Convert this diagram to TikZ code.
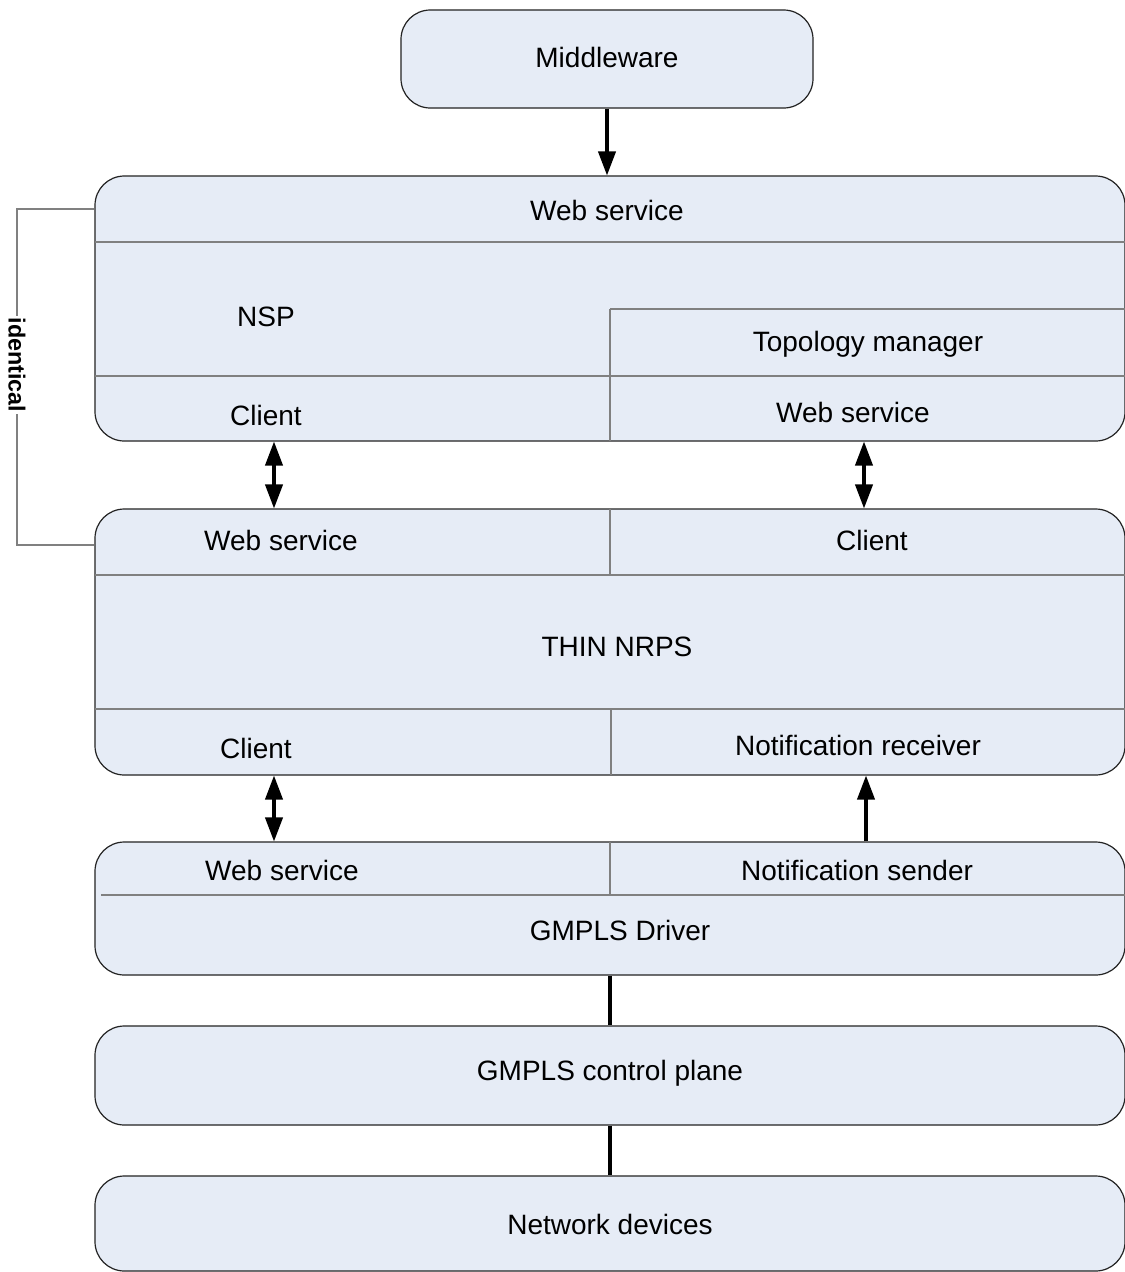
\documentclass[tikz,border=0pt]{standalone}
\usepackage{fontspec}
\setmainfont{Liberation Sans}
\usetikzlibrary{arrows.meta,fit}

\definecolor{layerfill}{RGB}{230,236,246}
\definecolor{layerline}{RGB}{35,35,35}
\definecolor{splitline}{RGB}{128,128,128}

\tikzset{every picture/.style={line width=0.75pt}}
\tikzset{
  layer/.style={draw=layerline, fill=layerfill, rounded corners=22pt, inner sep=0pt, line width=0.9pt},
  split/.style={draw=splitline, line width=1.1pt},
  lbl/.style={font=\fontsize{21}{25}\selectfont, inner sep=1pt},
  idlbl/.style={font=\bfseries\fontsize{17.5}{20}\selectfont, fill=white, inner sep=1pt, rotate=-90},
  arr/.style={draw=black, line width=2.3pt, -{Triangle[length=18pt,width=13pt]}},
  dblarr/.style={draw=black, line width=2.3pt, {Triangle[length=18pt,width=13pt]}-{Triangle[length=18pt,width=13pt]}},
  link/.style={draw=black, line width=2.3pt},
  bracket/.style={draw=splitline, line width=1pt},
}

\begin{document}
\begin{tikzpicture}[x=0.75pt,y=0.75pt,yscale=-1,xscale=1]
                \useasboundingbox (0,0) rectangle (1125,1272);
                \fill[white] (0,0) rectangle (1125,1272);

                %Middleware
                \node[layer, fit={(401,10) (813,108)}] (mw) {};
                \node[lbl] (mwname) at (607,57) {Middleware};

                %NSP layer
                \node[layer, fit={(95,176) (1125,441)}] (nsp) {};
                \draw[split] (95,242) -- (1125,242);
                \draw[split] (95,376) -- (1125,376);
                \draw[split] (610,309) -- (1125,309);
                \draw[split] (610,309) -- (610,441);
                \node[lbl] (nspws) at (607,210) {Web service};
                \node[lbl] (nspname) at (266,317) {NSP};
                \node[lbl] (topo) at (868,344) {Topology manager};
                \node[lbl] (nspcl) at (266,415) {Client};
                \node[lbl] (topows) at (853,412) {Web service};

                %THIN NRPS layer
                \node[layer, fit={(95,509) (1125,775)}] (nrps) {};
                \draw[split] (95,575) -- (1125,575);
                \draw[split] (95,709) -- (1125,709);
                \draw[split] (610,509) -- (610,575);
                \draw[split] (611,709) -- (611,775);
                \node[lbl] (nrpsws) at (281,540) {Web service};
                \node[lbl] (nrpscl) at (872,540) {Client};
                \node[lbl] (nrpsname) at (617,647) {THIN NRPS};
                \node[lbl] (nrpscl2) at (256,748) {Client};
                \node[lbl] (notrecv) at (858,745) {Notification receiver};

                %GMPLS Driver layer
                \node[layer, fit={(95,842) (1125,975)}] (drv) {};
                \draw[split] (101,895) -- (1125,895);
                \draw[split] (610,842) -- (610,895);
                \node[lbl] (drvws) at (282,870) {Web service};
                \node[lbl] (notsend) at (857,870) {Notification sender};
                \node[lbl] (drvname) at (620,930) {GMPLS Driver};

                %control plane and devices
                \node[layer, fit={(95,1026) (1125,1125)}] (cp) {};
                \node[lbl] (cpname) at (610,1073) {GMPLS control plane};
                \node[layer, fit={(95,1176) (1125,1271)}] (dev) {};
                \node[lbl] (devname) at (610,1224) {Network devices};

                %connectors
                \coordinate (lx) at (274,0);
                \coordinate (rx) at (864,0);
                \coordinate (nx) at (866,0);
                \coordinate (mx) at (610,0);
                \draw[arr] (mw.south) -- (mw.south |- nsp.north);
                \draw[dblarr] (nsp.south -| lx) -- (nrps.north -| lx);
                \draw[dblarr] (nsp.south -| rx) -- (nrps.north -| rx);
                \draw[dblarr] (nrps.south -| lx) -- (drv.north -| lx);
                \draw[arr] (drv.north -| nx) -- (nrps.south -| nx);
                \draw[link] (drv.south -| mx) -- (cp.north -| mx);
                \draw[link] (cp.south -| mx) -- (dev.north -| mx);

                %identical bracket
                \coordinate (idt) at (17,209);
                \coordinate (idb) at (17,545);
                \draw[bracket] (nsp.west |- idt) -- (idt) -- (idb) -- (nrps.west |- idb);
                \node[idlbl] (ident) at (17,365) {identical};
\end{tikzpicture}
\end{document}
